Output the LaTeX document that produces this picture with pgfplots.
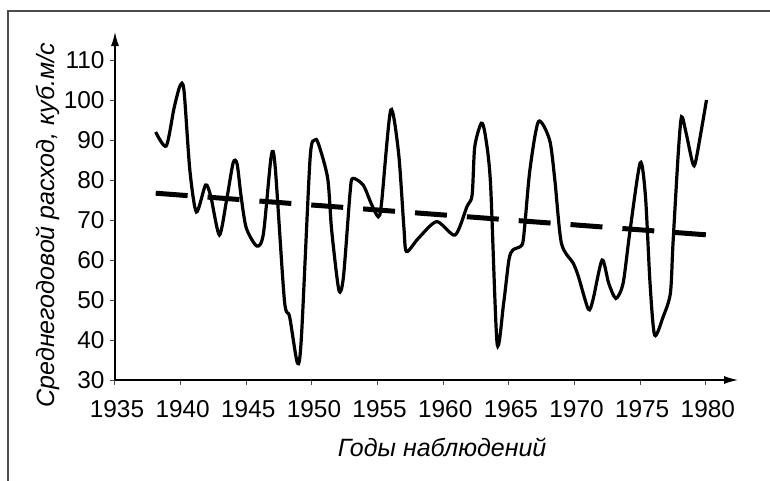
\documentclass[border=0pt]{standalone}
\usepackage{fontspec}
\setmainfont{Liberation Sans}
\usepackage{pgfplots}
\pgfplotsset{compat=1.18}
\usetikzlibrary{arrows.meta}
\begin{document}
\begin{tikzpicture}
\path[use as bounding box] (-57.5pt,-50.5pt) rectangle (327.5pt,190pt);
\draw[line width=1pt, black!70] (-53.5pt,-50.5pt) -- (-53.5pt,184.5pt) -- (327.5pt,184.5pt);
\begin{axis}[
  at={(0,0)}, anchor=south west,
  scale only axis, width=311.5pt, height=174pt,
  xmin=1935, xmax=1982.45, ymin=30, ymax=117,
  axis lines=left,
  axis line style={line width=0.6pt, -{Latex[length=7pt,width=4pt]}},
  xtick={1935,1940,...,1980}, ytick={30,40,...,110},
  tick align=outside, major tick length=2.5pt,
  tick style={line width=0.5pt, black!70},
  /pgf/number format/assume math mode=true,
  /pgf/number format/1000 sep={},
  every tick label/.append style={font=\fontsize{12.2}{14}\selectfont},
  xticklabel style={font=\fontsize{12.2}{14}\selectfont, yshift=-4pt, xshift=1pt},
  yticklabel style={font=\fontsize{12.2}{14}\selectfont, xshift=0.8pt},
  xlabel={\itshape Годы наблюдений},
  xlabel style={at={(axis description cs:0.525,-0.195)}, anchor=center, font=\fontsize{12.5}{14}\selectfont},
  ylabel={\itshape Среднегодовой расход, куб.м/с},
  ylabel style={at={(axis description cs:-0.1075,0.445)}, anchor=center, font=\fontsize{12.5}{14}\selectfont},
  clip=false,
]
\addplot[black, line width=1.6pt, smooth, tension=0.45] coordinates {
(1938.1,92) (1938.9,88.5) (1939.5,98) (1939.95,103.5) (1940.25,102.5) (1940.7,82.5)
(1941.2,72) (1941.9,78.75) (1942.3,75.8) (1942.95,66.25) (1943.5,75) (1944.0,84.3)
(1944.3,84) (1944.6,76) (1945.0,68) (1945.8,63.5) (1946.3,66.5) (1946.9,86)
(1947.2,83.3) (1947.9,50) (1948.3,45.8) (1948.9,34.2) (1949.2,40.8) (1949.85,85)
(1950.2,90) (1950.5,89) (1951.2,80.4) (1951.5,67.5) (1952.05,52.5) (1952.4,55.8)
(1952.9,76.7) (1953.1,80.4) (1953.9,78.75) (1954.5,74.2) (1955.05,70.8) (1955.3,74.2)
(1956.0,97.5) (1956.6,86.7) (1957.0,68.3) (1957.2,62.1) (1958.1,65.4) (1959.5,69.6)
(1960.9,66.25) (1961.8,73.3) (1962.2,76.25) (1962.4,88.3) (1962.9,94.2) (1963.2,91.25)
(1963.6,79.2) (1964.1,39.2) (1964.6,49.2) (1965.0,60) (1965.3,62.5) (1966.0,63.75)
(1966.2,68.3) (1966.6,82.5) (1967.25,94.6) (1968.1,90) (1968.5,80) (1969.0,64.2)
(1969.9,59.2) (1970.3,55.8) (1971.05,47.7) (1971.4,50) (1972.1,60) (1972.6,54.2)
(1973.15,50.4) (1973.7,54.2) (1974.2,66.7) (1975.0,84.3) (1975.4,76) (1975.75,54.2)
(1976.1,41.25) (1976.75,45.8) (1977.3,51.7) (1977.5,64.2) (1977.9,86.7) (1978.15,95.8)
(1978.5,91.7) (1979.0,84.2) (1979.25,85) (1980.05,100)
};
\addplot[black, line width=2.5pt, dash pattern=on 16pt off 10pt] coordinates {(1938.1,76.7) (1980,66.3)};
\end{axis}
\end{tikzpicture}
\end{document}
